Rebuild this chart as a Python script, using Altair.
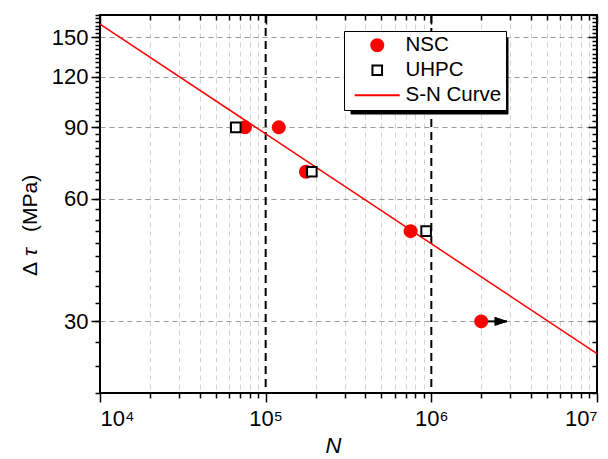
import altair as alt
import pandas as pd

# ---- data ----
nsc_N = [7.5e4, 1.2e5, 1.75e5, 7.5e5, 2.0e6]
nsc_S = [90, 90, 70, 50, 30]
uhpc_N = [6.6e4, 1.9e5, 9.3e5]
uhpc_S = [90, 70, 50]
curve_N = [1e4, 1e7]
curve_S = [161.5, 25.0]
arrow_start_N = [2.0e6]
arrow_end_N = [2.86e6]
arrow_S = [30]
ref_N = [1e5, 1e6]
series = ["NSC", "UHPC", "S-N Curve"]

x_major = [1e4, 1e5, 1e6, 1e7]
x_minor = [m * 10 ** e for e in (4, 5, 6) for m in range(2, 10)]
y_major = [30, 60, 90, 120, 150]
y_minor = [round(20 + k * 10 / 3, 3) for k in range(46)]

W, H = 497, 378
FONT = "Liberation Sans"

df_curve = pd.DataFrame({"N": curve_N, "S": curve_S})
df_pts = pd.DataFrame({
    "N": nsc_N + uhpc_N,
    "S": nsc_S + uhpc_S,
    "series": ["NSC"] * len(nsc_N) + ["UHPC"] * len(uhpc_N),
})
df_arrow = pd.DataFrame({"N0": arrow_start_N, "N1": arrow_end_N, "S": arrow_S})
df_head = pd.DataFrame({"N": arrow_end_N, "S": arrow_S})
df_ref = pd.DataFrame({"N": ref_N})
df_one = pd.DataFrame({"a": [0]})

xs = alt.Scale(type="log", domain=[1e4, 1e7], nice=False)
ys = alt.Scale(type="log", domain=[20, 170], nice=False)

label_expr = ("datum.value == 10000 ? '10\u2074' : datum.value == 100000 ? '10\u2075' : "
              "datum.value == 1000000 ? '10\u2076' : '10\u2077'")

ax_x_major = alt.Axis(orient="bottom", values=x_major, tickSize=9, labelPadding=6,
                      labelExpr=label_expr, grid=False, domain=False,
                      title="N", titleFontStyle="italic", titleFontSize=22,
                      titleX=233, titleY=59, titleBaseline="alphabetic", titleAlign="center")
ax_x_minor = alt.Axis(orient="bottom", values=x_minor, tickSize=5, labels=False, title=None,
                      grid=True, gridColor="#d3d3d3", gridDash=[5, 4], gridWidth=1, domain=False)
ax_x_top_major = alt.Axis(orient="top", values=x_major, tickSize=9, offset=-9, labels=False,
                          title=None, grid=False, domain=False)
ax_x_top_minor = alt.Axis(orient="top", values=x_minor, tickSize=5, offset=-5, labels=False,
                          title=None, grid=False, domain=False)

ax_y_major = alt.Axis(orient="left", values=y_major, tickSize=9, labelPadding=3, format="d",
                      grid=True, gridColor="#9a9a9a", gridDash=[5, 4], gridWidth=1, domain=False,
                      title=None)
ax_y_minor = alt.Axis(orient="left", values=y_minor, tickSize=5, labels=False, title=None,
                      grid=False, domain=False)
ax_y_right_major = alt.Axis(orient="right", values=y_major, tickSize=9, offset=-9, labels=False,
                            title=None, grid=False, domain=False)
ax_y_right_minor = alt.Axis(orient="right", values=y_minor, tickSize=5, offset=-5, labels=False,
                            title=None, grid=False, domain=False)

vrules = alt.Chart(df_ref).mark_rule(color="black", strokeWidth=2, strokeDash=[8, 5]).encode(
    x=alt.X("N:Q", scale=xs, axis=None)
)

line = alt.Chart(df_curve).mark_line(color="#ff0000", strokeWidth=1.5).encode(
    x=alt.X("N:Q", scale=xs, axis=ax_x_major),
    y=alt.Y("S:Q", scale=ys, axis=ax_y_major),
)

arrow = alt.Chart(df_arrow).mark_rule(color="black", strokeWidth=2).encode(
    x=alt.X("N0:Q", scale=xs, axis=ax_x_top_major),
    x2="N1:Q",
    y=alt.Y("S:Q", scale=ys, axis=ax_y_right_major),
)

head = alt.Chart(df_head).mark_point(
    shape="M-2,-0.67L0,0L-2,0.67Z", size=144, filled=True, fill="black", stroke="black",
    strokeWidth=1, opacity=1
).encode(
    x=alt.X("N:Q", scale=xs, axis=ax_x_top_minor),
    y=alt.Y("S:Q", scale=ys, axis=ax_y_right_minor),
)

points = alt.Chart(df_pts).mark_point(filled=True, size=144, strokeWidth=2, opacity=1).encode(
    x=alt.X("N:Q", scale=xs, axis=ax_x_minor),
    y=alt.Y("S:Q", scale=ys, axis=ax_y_minor),
    shape=alt.Shape("series:N", scale=alt.Scale(
        domain=series,
        range=["circle", "M-0.8,-0.8L0.8,-0.8L0.8,0.8L-0.8,0.8Z", "M-3.75,0L3.75,0"]),
        legend=alt.Legend(title=None)),
    fill=alt.Fill("series:N", scale=alt.Scale(
        domain=series, range=["#ff0000", "#ffffff", "transparent"]),
        legend=alt.Legend(title=None)),
    stroke=alt.Stroke("series:N", scale=alt.Scale(
        domain=series, range=["#ff0000", "#000000", "#ff0000"]),
        legend=alt.Legend(title=None)),
)

# legend drop shadow (decoration, pixel placed)
shadow = alt.Chart(df_one).mark_rect(fill="#000000", stroke="#000000", opacity=1).encode(
    x=alt.value(251), x2=alt.value(408), y=alt.value(23), y2=alt.value(99)
)

# y-axis title "Δτ (MPa)" with italic τ (rotated text pieces)
def ytitle(txt, ypos, style="normal"):
    return alt.Chart(df_one).mark_text(
        text=txt, angle=270, align="left", baseline="alphabetic", font=FONT,
        fontSize=21, fontStyle=style, color="black"
    ).encode(x=alt.value(-63), y=alt.value(ypos))

t_delta = ytitle("\u0394", 261)
t_tau = ytitle("\u03c4", 241, "italic")
t_unit = ytitle("(MPa)", 217)

chart = alt.layer(vrules, line, arrow, head, points, shadow, t_delta, t_tau, t_unit).resolve_axis(
    x="independent", y="independent"
).properties(
    width=W, height=H,
    autosize=alt.AutoSizeParams(type="none"),
    padding={"left": 100, "top": 15, "right": 11, "bottom": 66},
).configure_view(
    stroke="black", strokeWidth=2
).configure_axis(
    labelFont=FONT, labelFontSize=22, labelColor="black",
    titleFont=FONT, titleFontWeight="normal", titleColor="black",
    tickColor="black", tickWidth=1.5,
).configure_legend(
    orient="none", legendX=244, legendY=16,
    fillColor="white", strokeColor="black",
    padding=4, labelFont=FONT, labelFontSize=20.5, labelColor="black",
    symbolSize=144, symbolStrokeWidth=2, symbolOffset=19, labelOffset=18,
    rowPadding=4,
)

chart.save("out.html", embed_options={"renderer": "svg", "actions": False})
